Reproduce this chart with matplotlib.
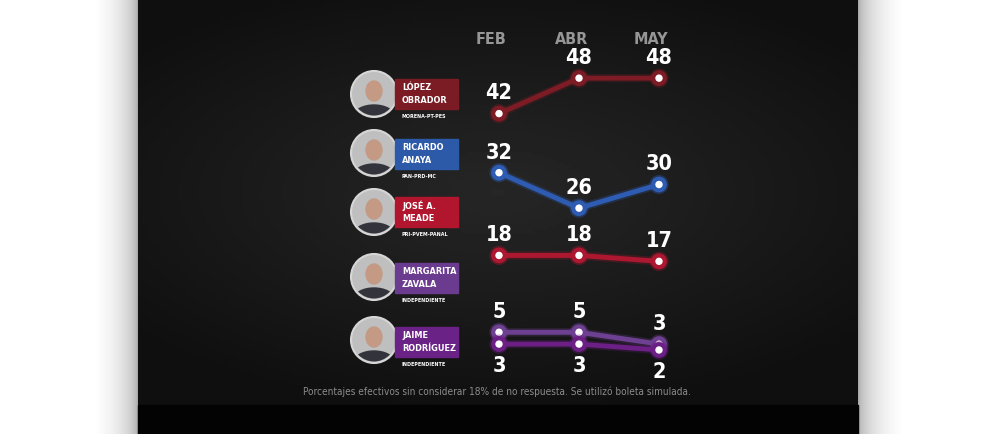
import numpy as np
import matplotlib
matplotlib.use("Agg")
import matplotlib.pyplot as plt
from matplotlib import font_manager
from matplotlib.font_manager import FontProperties
from matplotlib.patches import Rectangle, Circle, Ellipse
import matplotlib.patheffects as pe


months = ["FEB", "ABR", "MAY"]
names = [["LÓPEZ", "OBRADOR"], ["RICARDO", "ANAYA"], ["JOSÉ A.", "MEADE"],
         ["MARGARITA", "ZAVALA"], ["JAIME", "RODRÍGUEZ"]]
parties = ["MORENA-PT-PES", "PAN-PRD-MC", "PRI-PVEM-PANAL",
           "INDEPENDIENTE", "INDEPENDIENTE"]
lopez = [42, 48, 48]
anaya = [32, 26, 30]
meade = [18, 18, 17]
zavala = [5, 5, 3]
rodriguez = [3, 3, 2]
series = [lopez, anaya, meade, zavala, rodriguez]
colors = ["#7d1c25", "#2f5cb3", "#ad1730", "#6e4092", "#6c1f84"]
box_colors = ["#7b1c24", "#2c59a8", "#b2162e", "#6b3b90", "#6a2286"]
note = "Porcentajes efectivos sin considerar 18% de no respuesta. Se utilizó boleta simulada."


def narrow_font(bold):
    # look for any condensed / narrow face that is installed
    found = []
    for f in font_manager.fontManager.ttflist:
        key = (f.name + " " + f.fname).lower()
        fn = f.fname.lower()
        if "narrow" in key or "condensed" in key or str(f.stretch) in ("condensed", "semi-condensed"):
            isbold = "bold" in fn and "italic" not in fn and "oblique" not in fn
            plain = not any(s in fn for s in ("bold", "italic", "oblique", "light", "thin", "black", "medium", "semi", "extra"))
            if (bold and isbold) or (not bold and plain):
                found.append(f.fname)
    found.sort(key=lambda p: ("liberation" not in p.lower(), "dejavu" not in p.lower(), p))
    if found:
        return FontProperties(fname=found[0])
    return FontProperties(family="DejaVu Sans", weight="bold" if bold else "normal")


fb = narrow_font(True)
fr = narrow_font(False)

W, H = 985, 434
fig = plt.figure(figsize=(W / 100, H / 100), dpi=100)
fig.patch.set_facecolor("white")
renderer = fig.canvas.get_renderer()


def fit_size(texts, base, max_px, fp):
    # largest font size (<= base) so every text fits in max_px
    widest = 0
    for t in texts:
        p = fp.copy()
        p.set_size(base)
        w, _, _ = renderer.get_text_width_height_descent(t, p, ismath=False)
        widest = max(widest, w)
    return base * min(1.0, max_px / widest)


bg = fig.add_axes([0, 0, 1, 1])
bg.set_xlim(0, W)
bg.set_ylim(H, 0)
bg.axis("off")

# soft shadows beside the panel
ramp = (1 - np.linspace(0, 1, 80) ** 0.6)[None, :]
bg.imshow(ramp, cmap="Greys", vmin=0, vmax=2.2, extent=[138, 96, H, 0],
          aspect="auto", zorder=0)
bg.imshow(ramp, cmap="Greys", vmin=0, vmax=2.2, extent=[858, 902, H, 0],
          aspect="auto", zorder=0)

# dark panel with vignette
gx, gy = np.meshgrid(np.linspace(-1, 1, 200), np.linspace(-1, 1, 120))
rr = np.sqrt((gx * 0.9) ** 2 + ((gy + 0.05) * 1.1) ** 2)
shade = 0.15 - 0.075 * np.clip(rr, 0, 1.2)
bg.imshow(shade, cmap="gray", vmin=0, vmax=1, extent=[138, 858, 405, 0],
          aspect="auto", zorder=1)
bg.add_patch(Rectangle((138, 405), 720, 29, color="#030303", zorder=1))

name_size = fit_size([n for pair in names for n in pair], 10.5, 55, fb)
party_size = fit_size(parties, 5.5, 46, fb)
note_size = fit_size([note], 8.5, 389, fr)

# candidates: photo, coloured box, name and party
photo_y = [94, 153, 212, 277, 340]
box_top = [79, 139, 197, 263, 327]
for i in range(5):
    cy = photo_y[i]
    bg.add_patch(Circle((374, cy), 23, facecolor="#bfbfbf", edgecolor="#d6d6d6",
                        lw=1.5, zorder=3))
    clip = Circle((374, cy), 21.5, transform=bg.transData)
    face = Ellipse((374, cy - 3), 16, 20, color="#c49a85", zorder=4)
    body = Ellipse((374, cy + 22), 40, 22, color="#33333b", zorder=4)
    for p in (face, body):
        bg.add_patch(p)
        p.set_clip_path(clip)
    bg.add_patch(Rectangle((395, box_top[i]), 63, 30, color=box_colors[i], zorder=3))
    for j in range(2):
        bg.text(402, box_top[i] + 8.5 + 13 * j, names[i][j], color="white",
                fontproperties=fb, fontsize=name_size, va="center", ha="left", zorder=5)
    bg.text(402, box_top[i] + 37, parties[i], color="white", fontproperties=fb,
            fontsize=party_size, va="center", ha="left", zorder=5)

bg.text(497, 392, note, color="#8c8c8c", fontproperties=fr, fontsize=note_size,
        ha="center", va="center", zorder=5)

# chart axes: x = month index, y = percentage
y0_px, y1_px = 361.8, 54.5
ax = fig.add_axes([459 / W, (H - y0_px) / H, 240 / W, (y0_px - y1_px) / H])
ax.set_xlim(-0.5, 2.5)
ax.set_ylim(0, 52)
ax.axis("off")
ax.patch.set_alpha(0)

x = np.arange(len(months))
for i, vals in enumerate(series):
    ax.plot(x, vals, color=colors[i], lw=3.5, zorder=3,
            path_effects=[pe.Stroke(linewidth=6, foreground=colors[i], alpha=0.25),
                          pe.Normal()])
    ax.scatter(x, vals, s=70, facecolor="white", edgecolor=colors[i],
               linewidth=3, zorder=4,
               path_effects=[pe.Stroke(linewidth=5.5, foreground=colors[i], alpha=0.35),
                             pe.Normal()])
    below = i == 4
    for xi, v in zip(x, vals):
        dy = -16 if below else 14.5
        ax.annotate(str(v), (xi, v), xytext=(0, dy), textcoords="offset points",
                    ha="center", va="center", color="white", fontproperties=fb,
                    fontsize=15.5, zorder=5)

for xi, m in zip(x, months):
    ax.annotate(m, (xi, 52), xytext=(-5.5, 10.5), textcoords="offset points",
                ha="center", va="center", color="#969696", fontsize=11.5,
                fontproperties=fb, annotation_clip=False)

fig.savefig("out.png", dpi=100, facecolor=fig.get_facecolor())
